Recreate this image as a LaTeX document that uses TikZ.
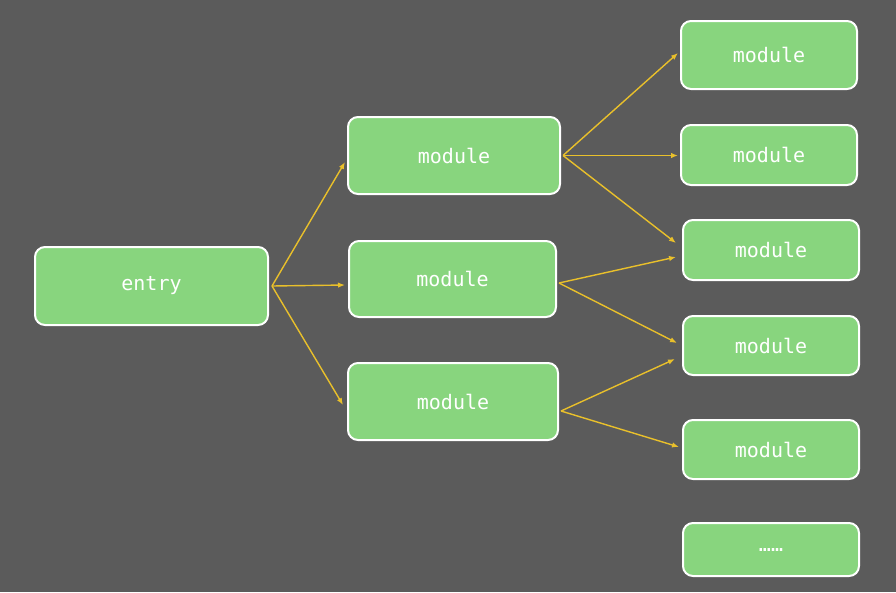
\documentclass[tikz,border=0pt]{standalone}
\usepackage{fontspec}
\setmonofont{DejaVu Sans Mono}
\usetikzlibrary{arrows.meta}
\definecolor{bg}{HTML}{5B5B5B}
\definecolor{boxgreen}{HTML}{88D57E}
\definecolor{arrowyellow}{HTML}{E9C02B}
\tikzset{
  box/.style={draw=white, line width=2pt, fill=boxgreen, rounded corners=10pt,
    inner sep=0pt, text=white, font=\ttfamily\fontsize{20}{24}\selectfont},
  arr/.style={draw=arrowyellow, line width=1.4pt, -{Latex[length=7pt,width=5.5pt]}}
}
\begin{document}
\begin{tikzpicture}[x=1pt,y=-1pt]
\fill[bg] (0,0) rectangle (896,592);
\useasboundingbox (0,0) rectangle (896,592);
\node[box, minimum width=233, minimum height=78] (entry) at (151.5,286) {entry};
\node[box, minimum width=212, minimum height=77] (A) at (454,155.5) {module};
\node[box, minimum width=207, minimum height=76] (B) at (452.5,279) {module};
\node[box, minimum width=210, minimum height=77] (C) at (453,401.5) {module};
\node[box, minimum width=176, minimum height=68] (R1) at (769,55) {module};
\node[box, minimum width=176, minimum height=60] (R2) at (769,155) {module};
\node[box, minimum width=176, minimum height=60] (R3) at (771,250) {module};
\node[box, minimum width=176, minimum height=59] (R4) at (771,345.5) {module};
\node[box, minimum width=176, minimum height=59] (R5) at (771,449.5) {module};
\node[box, minimum width=176, minimum height=53] (R6) at (771,549.5) {……};
% entry arrows
\draw[arr] ([shift={(3,0)}]entry.east) -- ([shift={(-2,6.5)}]A.west);
\draw[arr] ([shift={(3,0)}]entry.east) -- ([shift={(-3,6)}]B.west);
\draw[arr] ([shift={(3,0)}]entry.east) -- ([shift={(-4,3.5)}]C.west);
% A arrows
\draw[arr] ([shift={(2,0)}]A.east) -- ([shift={(-2,-2)}]R1.west);
\draw[arr] ([shift={(2,0)}]A.east) -- ([shift={(-2,0.5)}]R2.west);
\draw[arr] ([shift={(2,0)}]A.east) -- ([shift={(-6,-7)}]R3.west);
% B arrows
\draw[arr] ([shift={(2,4)}]B.east) -- ([shift={(-6,7)}]R3.west);
\draw[arr] ([shift={(2,4)}]B.east) -- ([shift={(-5,-2.5)}]R4.west);
% C arrows
\draw[arr] ([shift={(2,9.5)}]C.east) -- ([shift={(-7,13.5)}]R4.west);
\draw[arr] ([shift={(2,9.5)}]C.east) -- ([shift={(-3,-2.5)}]R5.west);
\end{tikzpicture}
\end{document}
